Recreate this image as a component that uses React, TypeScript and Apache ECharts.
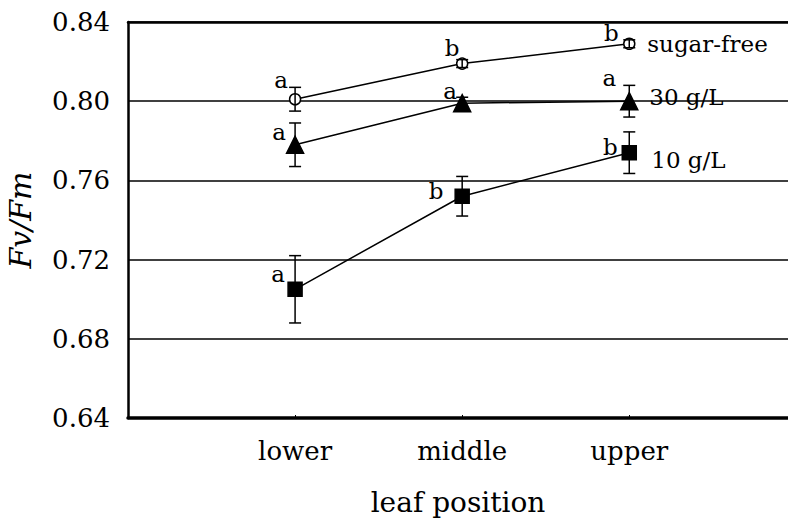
import React, { useEffect, useRef } from "react";
import * as echarts from "echarts";

const categories = ["lower", "middle", "upper"];
const yTicks = [0.64, 0.68, 0.72, 0.76, 0.8, 0.84];

const sugarFree = [0.801, 0.819, 0.829];
const sugarFreeErr = [0.006, 0.002, 0.002];
const sugarFreeLetters = ["a", "b", "b"];

const g30 = [0.778, 0.799, 0.8];
const g30Err = [0.011, 0.003, 0.008];
const g30Letters = ["a", "a", "a"];

const g10 = [0.705, 0.752, 0.774];
const g10Err = [0.017, 0.01, 0.0105];
const g10Letters = ["a", "b", "b"];

const seriesNames = ["sugar-free", "30 g/L", "10 g/L"];

const FONT = "'DejaVu Serif', 'Liberation Serif', serif";

export default function App() {
  const ref = useRef<HTMLDivElement>(null);
  useEffect(() => {
    if (!ref.current) return;
    const chart = echarts.init(ref.current, null, { renderer: "svg" });

    const toXY = (vals: number[]) => vals.map((v, i) => [i + 1, v]);
    const toErr = (vals: number[], errs: number[]) =>
      vals.map((v, i) => [i + 1, v, errs[i]]);

    const letterOffsets = [
      [[-14, -19], [-10, -16], [-18, -11]],
      [[-16, -13], [-12, -12], [-20, -23]],
      [[-17, -15], [-26, -5], [-19, -6]],
    ];

    const lineSeries = (
      name: string,
      vals: number[],
      letters: string[],
      idx: number,
      symbol: string,
      size: number,
      fill: string,
      endOffset: number[]
    ) => ({
      type: "line",
      name,
      data: toXY(vals).map((d, i) => ({
        value: d,
        label: {
          show: true,
          position: "inside",
          offset: letterOffsets[idx][i],
          formatter: letters[i],
          fontFamily: FONT,
          fontSize: 23,
          color: "#000",
        },
      })),
      symbol,
      symbolSize: size,
      showAllSymbol: true,
      lineStyle: { color: "#000", width: 1.5 },
      itemStyle: { color: fill, borderColor: "#000", borderWidth: 1.5 },
      z: 3,
      endLabel: {
        show: true,
        formatter: name,
        fontFamily: FONT,
        fontSize: 23,
        color: "#000",
        distance: 18,
        offset: endOffset,
      },
    });

    const errSeries = (vals: number[], errs: number[]) => ({
      type: "custom",
      data: toErr(vals, errs),
      z: 4,
      renderItem: (params: any, api: any) => {
        const x = api.value(0);
        const y = api.value(1);
        const e = api.value(2);
        const top = api.coord([x, y + e]);
        const bot = api.coord([x, y - e]);
        const hw = 6;
        const st = { stroke: "#000", lineWidth: 1.5 };
        return {
          type: "group",
          children: [
            { type: "line", shape: { x1: top[0], y1: top[1], x2: bot[0], y2: bot[1] }, style: st },
            { type: "line", shape: { x1: top[0] - hw, y1: top[1], x2: top[0] + hw, y2: top[1] }, style: st },
            { type: "line", shape: { x1: bot[0] - hw, y1: bot[1], x2: bot[0] + hw, y2: bot[1] }, style: st },
          ],
        };
      },
    });

    chart.setOption({
      animation: false,
      backgroundColor: "#fff",
      grid: {
        left: 128,
        top: 22,
        right: 0,
        bottom: 104,
        containLabel: false,
        outerBoundsMode: "none",
      },
      xAxis: [
        {
          type: "value",
          min: 0,
          max: 3.95,
          interval: 1,
          name: "leaf position",
          nameLocation: "middle",
          nameGap: 70,
          nameTextStyle: { fontFamily: FONT, fontSize: 28, color: "#000" },
          axisLine: { show: true, lineStyle: { color: "#000", width: 3.5 } },
          axisTick: {
            show: true,
            inside: true,
            length: 3,
            customValues: [1, 2, 3],
            lineStyle: { color: "#000", width: 1 },
          },
          axisLabel: {
            customValues: [1, 2, 3],
            formatter: (v: number) => categories[Math.round(v) - 1] ?? "",
            fontFamily: FONT,
            fontSize: 26,
            color: "#000",
            margin: 20,
          },
          splitLine: { show: false },
        },
        {
          type: "value",
          position: "top",
          min: 0,
          max: 3.95,
          axisLine: { show: true, lineStyle: { color: "#000", width: 2.5 } },
          axisTick: { show: false },
          axisLabel: { show: false },
          splitLine: { show: false },
        },
      ],
      yAxis: {
        type: "value",
        min: 0.64,
        max: 0.84,
        interval: 0.04,
        name: "Fv/Fm",
        nameLocation: "middle",
        nameRotate: 90,
        nameGap: 93,
        nameTextStyle: {
          fontFamily: FONT,
          fontStyle: "italic",
          fontSize: 30,
          color: "#000",
        },
        axisLine: { show: true, lineStyle: { color: "#000", width: 2.5 } },
        axisTick: { show: false },
        axisLabel: {
          formatter: (v: number) => v.toFixed(2),
          fontFamily: FONT,
          fontSize: 26,
          color: "#000",
          margin: 18,
          customValues: yTicks,
        },
        splitLine: { show: true, lineStyle: { color: "#000", width: 1.5 } },
      },
      series: [
        lineSeries(seriesNames[0], sugarFree, sugarFreeLetters, 0, "circle", 11, "#fff", [0, 0]),
        lineSeries(seriesNames[1], g30, g30Letters, 1, "triangle", 17, "#000", [2, -4]),
        lineSeries(seriesNames[2], g10, g10Letters, 2, "rect", 14, "#000", [4, 7]),
        errSeries(sugarFree, sugarFreeErr),
        errSeries(g30, g30Err),
        errSeries(g10, g10Err),
      ],
    });
    return () => chart.dispose();
  }, []);
  return (
    <div
      ref={ref}
      style={{ position: "fixed", left: 0, top: 0, width: 788, height: 522 }}
    />
  );
}
